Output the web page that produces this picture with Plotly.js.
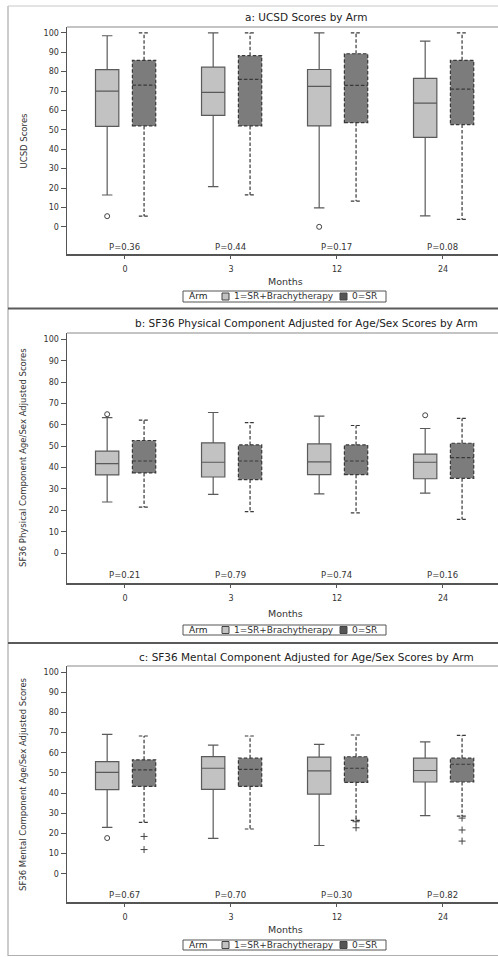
<!DOCTYPE html>
<html><head><meta charset="utf-8">
<script src="https://cdn.plot.ly/plotly-3.0.1.min.js"></script>
<style>html,body{margin:0;padding:0;background:#fff;overflow:hidden}</style>
</head><body><div id="gd" style="width:498px;height:957px"></div>
<script>
// ---------- data ----------
const months = ['0', '3', '12', '24'];
const yTicks = [0, 10, 20, 30, 40, 50, 60, 70, 80, 90, 100];
const armNames = ['1=SR+Brachytherapy', '0=SR'];
const legendTitle = 'Arm';
const xTitle = 'Months';
const panelTitles = [
  'a: UCSD Scores by Arm',
  'b: SF36 Physical Component Adjusted for Age/Sex Scores by Arm',
  'c: SF36 Mental Component Adjusted for Age/Sex Scores by Arm'
];
const yTitles = [
  'UCSD Scores',
  'SF36 Physical Component Age/Sex Adjusted Scores',
  'SF36 Mental Component Age/Sex Adjusted Scores'
];
const pValuesA = ['P=0.36', 'P=0.44', 'P=0.17', 'P=0.08'];
const pValuesB = ['P=0.21', 'P=0.79', 'P=0.74', 'P=0.16'];
const pValuesC = ['P=0.67', 'P=0.70', 'P=0.30', 'P=0.82'];

// a: UCSD
const ucsdBrachyLow  = [16.4, 20.7, 9.8, 5.7];
const ucsdBrachyQ1   = [51.8, 57.5, 52.0, 46.1];
const ucsdBrachyMed  = [70.0, 69.3, 72.4, 63.8];
const ucsdBrachyQ3   = [81.0, 82.3, 81.1, 76.5];
const ucsdBrachyHigh = [98.5, 100, 100, 95.7];
const ucsdBrachyOutMonth = ['0', '12'];
const ucsdBrachyOutVal   = [5.5, 0];
const ucsdSrLow  = [5.5, 16.5, 13.3, 3.8];
const ucsdSrQ1   = [52.0, 52.0, 53.7, 52.7];
const ucsdSrMed  = [73.0, 76.0, 72.9, 71.0];
const ucsdSrQ3   = [85.8, 88.2, 89.2, 85.8];
const ucsdSrHigh = [100, 100, 100, 100];
const ucsdSrOutMonth = [];
const ucsdSrOutVal   = [];

// b: SF36 physical
const physBrachyLow  = [23.9, 27.5, 27.7, 28.1];
const physBrachyQ1   = [36.6, 35.6, 36.7, 34.8];
const physBrachyMed  = [41.9, 42.5, 42.7, 42.5];
const physBrachyQ3   = [47.7, 51.6, 51.1, 46.3];
const physBrachyHigh = [63.4, 65.8, 64.1, 58.3];
const physBrachyOutMonth = ['0', '24'];
const physBrachyOutVal   = [65.0, 64.5];
const physSrLow  = [21.5, 19.4, 18.8, 15.8];
const physSrQ1   = [37.5, 34.4, 36.7, 35.0];
const physSrMed  = [43.1, 43.1, 43.1, 44.7];
const physSrQ3   = [52.7, 50.6, 50.6, 51.4];
const physSrHigh = [62.2, 61.1, 59.7, 63.0];
const physSrOutMonth = [];
const physSrOutVal   = [];

// c: SF36 mental
const mentBrachyLow  = [23.0, 17.5, 14.0, 28.8];
const mentBrachyQ1   = [41.7, 41.8, 39.5, 45.5];
const mentBrachyMed  = [50.3, 52.3, 51.0, 51.2];
const mentBrachyQ3   = [55.6, 58.1, 57.8, 57.3];
const mentBrachyHigh = [69.1, 63.8, 64.1, 65.4];
const mentBrachyOutMonth = ['0'];
const mentBrachyOutVal   = [17.7];
const mentSrLow  = [25.5, 22.2, 26.5, 28.6];
const mentSrQ1   = [43.3, 43.3, 45.3, 45.5];
const mentSrMed  = [51.5, 51.8, 52.3, 54.3];
const mentSrQ3   = [56.5, 57.3, 58.0, 57.3];
const mentSrHigh = [68.3, 68.3, 68.8, 68.6];
const mentSrOutMonth = ['0', '0', '12', '12', '24', '24', '24'];
const mentSrOutVal   = [18.5, 12.0, 25.8, 22.8, 27.6, 21.7, 16.2];

// ---------- layout constants ----------
const W = 498, H = 957;
const FONT = 'DejaVu Sans, Verdana, sans-serif';
const TXT = '#333';
const px = v => v / W;
const py = v => 1 - v / H;
const plotLeft = 67;
// plot top / bottom (pixels) for each panel
const panelBox = [[27, 254], [333, 583], [666, 902]];
const titleY = [17, 323, 657];
const monthsY = [281, 613, 929];
const legendY = [[291, 302], [625, 635], [940, 950]];
const offsets = [-0.168, 0.18];
const styles = [
  {fill: '#c2c2c2', line: '#5a5a5a', dashed: false, sym: 'circle-open'},
  {fill: '#7c7c7c', line: '#383838', dashed: true, sym: 'cross-thin-open'}
];

const panels = [
  {p: pValuesA, arms: [
    {lo: ucsdBrachyLow, q1: ucsdBrachyQ1, md: ucsdBrachyMed, q3: ucsdBrachyQ3, hi: ucsdBrachyHigh, om: ucsdBrachyOutMonth, ov: ucsdBrachyOutVal},
    {lo: ucsdSrLow, q1: ucsdSrQ1, md: ucsdSrMed, q3: ucsdSrQ3, hi: ucsdSrHigh, om: ucsdSrOutMonth, ov: ucsdSrOutVal}]},
  {p: pValuesB, arms: [
    {lo: physBrachyLow, q1: physBrachyQ1, md: physBrachyMed, q3: physBrachyQ3, hi: physBrachyHigh, om: physBrachyOutMonth, ov: physBrachyOutVal},
    {lo: physSrLow, q1: physSrQ1, md: physSrMed, q3: physSrQ3, hi: physSrHigh, om: physSrOutMonth, ov: physSrOutVal}]},
  {p: pValuesC, arms: [
    {lo: mentBrachyLow, q1: mentBrachyQ1, md: mentBrachyMed, q3: mentBrachyQ3, hi: mentBrachyHigh, om: mentBrachyOutMonth, ov: mentBrachyOutVal},
    {lo: mentSrLow, q1: mentSrQ1, md: mentSrMed, q3: mentSrQ3, hi: mentSrHigh, om: mentSrOutMonth, ov: mentSrOutVal}]}
];

const traces = [];
const layout = {
  width: W, height: H, margin: {l: 0, r: 0, t: 0, b: 0},
  paper_bgcolor: '#fff', plot_bgcolor: '#fff',
  showlegend: false, boxmode: 'overlay',
  font: {family: FONT, color: TXT, size: 8},
  shapes: [], annotations: []
};

panels.forEach((pan, k) => {
  const s = k === 0 ? '' : String(k + 1);
  const [top, bot] = panelBox[k];
  layout['xaxis' + s] = {
    domain: [px(plotLeft), 1], anchor: 'y' + s,
    range: [-0.547, 3.519], tickmode: 'array', tickvals: months.map((m, i) => i), ticktext: months,
    ticks: 'outside', ticklen: 3, tickwidth: 1, tickcolor: '#555', ticklabelstandoff: 4,
    showline: true, linecolor: '#555', linewidth: 1.5,
    showgrid: false, zeroline: false, tickfont: {size: 8, color: TXT, family: FONT}, fixedrange: true
  };
  layout['yaxis' + s] = {
    domain: [py(bot), py(top)], anchor: 'x' + s,
    range: [-14, 103], tickmode: 'array', tickvals: yTicks,
    ticks: 'outside', ticklen: 5, tickwidth: 1, tickcolor: '#555',
    showline: true, linecolor: '#555', linewidth: 1.5,
    showgrid: false, zeroline: false, tickfont: {size: 8, color: TXT, family: FONT}, fixedrange: true
  };
  pan.arms.forEach((a, j) => {
    const st = styles[j];
    traces.push({
      type: 'box', xaxis: 'x' + s, yaxis: 'y' + s,
      x: months.map((m, i) => i + offsets[j]),
      q1: a.q1, median: a.md, q3: a.q3, lowerfence: a.lo, upperfence: a.hi,
      width: 0.22, whiskerwidth: 0.45, boxpoints: false,
      fillcolor: st.fill, line: {color: st.line, width: 1.2},
      hoverinfo: 'skip', name: armNames[j], meta: st.dashed ? 'dashed' : 'solid'
    });
    if (a.om.length) {
      traces.push({
        type: 'scatter', mode: 'markers', xaxis: 'x' + s, yaxis: 'y' + s,
        x: a.om.map(m => months.indexOf(m) + offsets[j]), y: a.ov,
        marker: {symbol: st.sym, size: 5, color: '#444', line: {width: 1, color: '#444'}},
        hoverinfo: 'skip'
      });
    }
  });
  // p-values
  pan.p.forEach((t, i) => layout.annotations.push({
    xref: 'x' + s, yref: 'y' + s, x: i, y: -10.3, text: t, showarrow: false,
    font: {size: 8.5, color: TXT, family: FONT}, xanchor: 'center', yanchor: 'middle'
  }));
  // plot top border
  layout.shapes.push({type: 'line', xref: 'paper', yref: 'paper', x0: px(plotLeft), x1: 1,
    y0: py(top), y1: py(top), line: {color: '#8a8a8a', width: 1.2}});
  // panel title
  layout.annotations.push({xref: 'paper', yref: 'paper', x: px(306), y: py(titleY[k]),
    text: panelTitles[k], showarrow: false, xanchor: 'center', yanchor: 'middle',
    font: {size: 10.5, color: '#222', family: FONT}});
  // y title
  layout.annotations.push({xref: 'paper', yref: 'paper', x: px(23), y: py((top + bot) / 2),
    text: yTitles[k], showarrow: false, textangle: -90, xanchor: 'center', yanchor: 'middle',
    font: {size: 8.5, color: TXT, family: FONT}});
  // x title
  layout.annotations.push({xref: 'paper', yref: 'paper', x: px(285), y: py(monthsY[k]),
    text: xTitle, showarrow: false, xanchor: 'center', yanchor: 'middle',
    font: {size: 9.5, color: TXT, family: FONT}});
  // legend box
  const [ly0, ly1] = legendY[k];
  const lc = (ly0 + ly1) / 2;
  layout.shapes.push({type: 'rect', xref: 'paper', yref: 'paper', x0: px(183), x1: px(386),
    y0: py(ly1), y1: py(ly0), line: {color: '#555', width: 1}, fillcolor: 'rgba(0,0,0,0)'});
  layout.annotations.push({xref: 'paper', yref: 'paper', x: px(187), y: py(lc), text: legendTitle,
    showarrow: false, xanchor: 'left', yanchor: 'middle', font: {size: 9, color: '#222', family: FONT}});
  [[222, 232, 0], [340, 350, 1]].forEach(([ix, tx, j]) => {
    layout.shapes.push({type: 'rect', xref: 'paper', yref: 'paper', x0: px(ix), x1: px(ix + 7),
      y0: py(lc + 3.5), y1: py(lc - 3.5), line: {color: '#444', width: 1}, fillcolor: j === 0 ? '#c2c2c2' : '#555'});
    layout.annotations.push({xref: 'paper', yref: 'paper', x: px(tx), y: py(lc), text: armNames[j],
      showarrow: false, xanchor: 'left', yanchor: 'middle', font: {size: 9, color: TXT, family: FONT}});
  });
});

// outer frames
layout.shapes.push(
  {type: 'line', xref: 'paper', yref: 'paper', x0: px(8), x1: px(8), y0: py(6), y1: py(956), line: {color: '#9a9a9a', width: 1}},
  {type: 'line', xref: 'paper', yref: 'paper', x0: px(8), x1: 1, y0: py(6), y1: py(6), line: {color: '#c8c8c8', width: 1}},
  {type: 'line', xref: 'paper', yref: 'paper', x0: px(8), x1: 1, y0: py(308.5), y1: py(308.5), line: {color: '#5a5a5a', width: 2}},
  {type: 'line', xref: 'paper', yref: 'paper', x0: px(8), x1: 1, y0: py(643), y1: py(643), line: {color: '#5a5a5a', width: 2}},
  {type: 'line', xref: 'paper', yref: 'paper', x0: px(8), x1: 1, y0: py(955.5), y1: py(955.5), line: {color: '#b0b0b0', width: 1}}
);

Plotly.newPlot('gd', traces, layout, {staticPlot: true, displayModeBar: false}).then(gd => {
  document.querySelectorAll('g.trace.boxes').forEach(g => {
    const d = g.__data__;
    const tr = d && d[0] && d[0].trace;
    if (tr && tr.meta === 'dashed') {
      g.querySelectorAll('path').forEach(p => { p.style.strokeDasharray = '3.5px,2px'; });
    }
  });
});
</script>
</body></html>
